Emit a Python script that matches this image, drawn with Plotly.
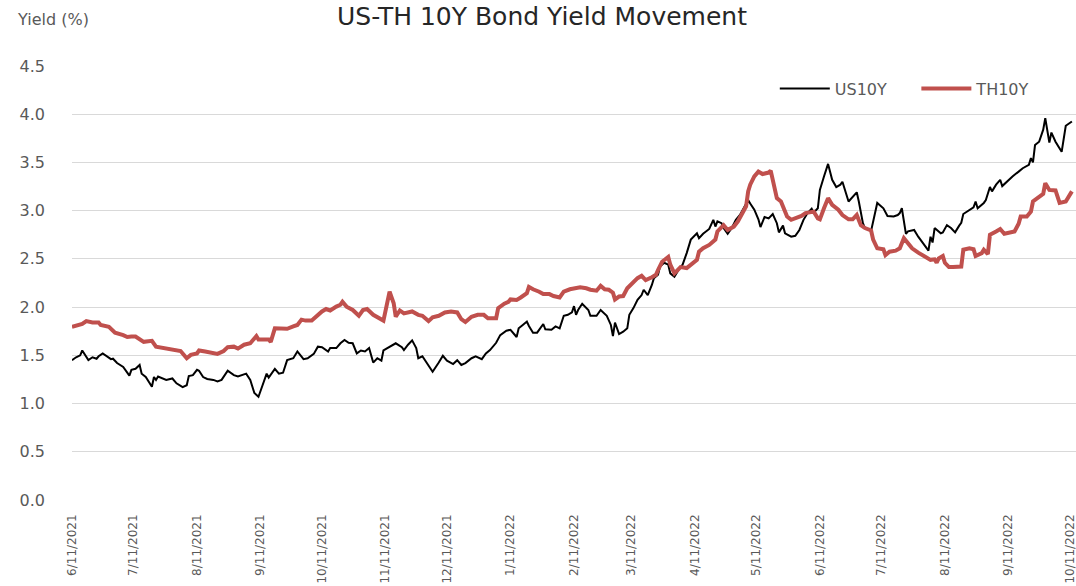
import plotly.graph_objects as go

# US 10-year Treasury yield (%)
us_dates = [
    "2021-06-11", "2021-06-13", "2021-06-15", "2021-06-16", "2021-06-19", "2021-06-21", "2021-06-23",
    "2021-06-24", "2021-06-26", "2021-06-28", "2021-06-30", "2021-07-01", "2021-07-03", "2021-07-06",
    "2021-07-07", "2021-07-09", "2021-07-10", "2021-07-12", "2021-07-14", "2021-07-15", "2021-07-17",
    "2021-07-20", "2021-07-21", "2021-07-22", "2021-07-23", "2021-07-27", "2021-07-30", "2021-08-01",
    "2021-08-04", "2021-08-06", "2021-08-07", "2021-08-09", "2021-08-11", "2021-08-12", "2021-08-14",
    "2021-08-16", "2021-08-19", "2021-08-21", "2021-08-23", "2021-08-26", "2021-08-29", "2021-08-31",
    "2021-09-04", "2021-09-06", "2021-09-08", "2021-09-10", "2021-09-12", "2021-09-14", "2021-09-15",
    "2021-09-18", "2021-09-20", "2021-09-22", "2021-09-24", "2021-09-27", "2021-09-29", "2021-10-02",
    "2021-10-04", "2021-10-07", "2021-10-09", "2021-10-11", "2021-10-14", "2021-10-15", "2021-10-18",
    "2021-10-20", "2021-10-22", "2021-10-24", "2021-10-26", "2021-10-28", "2021-10-30", "2021-11-01",
    "2021-11-03", "2021-11-05", "2021-11-07", "2021-11-09", "2021-11-10", "2021-11-13", "2021-11-16",
    "2021-11-19", "2021-11-20", "2021-11-22", "2021-11-24", "2021-11-26", "2021-11-27", "2021-11-29",
    "2021-12-02", "2021-12-04", "2021-12-07", "2021-12-09", "2021-12-11", "2021-12-14", "2021-12-16",
    "2021-12-18", "2021-12-20", "2021-12-23", "2021-12-25", "2021-12-28", "2021-12-30", "2022-01-01",
    "2022-01-04", "2022-01-06", "2022-01-09", "2022-01-11", "2022-01-14", "2022-01-15", "2022-01-17",
    "2022-01-19", "2022-01-20", "2022-01-22", "2022-01-24", "2022-01-27", "2022-01-28", "2022-01-31",
    "2022-02-02", "2022-02-04", "2022-02-06", "2022-02-08", "2022-02-10", "2022-02-11", "2022-02-12",
    "2022-02-13", "2022-02-15", "2022-02-18", "2022-02-19", "2022-02-22", "2022-02-24", "2022-02-27",
    "2022-03-01", "2022-03-02", "2022-03-03", "2022-03-05", "2022-03-07", "2022-03-09", "2022-03-10",
    "2022-03-12", "2022-03-14", "2022-03-16", "2022-03-17", "2022-03-19", "2022-03-21", "2022-03-22",
    "2022-03-24", "2022-03-25", "2022-03-27", "2022-03-29", "2022-03-30", "2022-04-01", "2022-04-03",
    "2022-04-05", "2022-04-07", "2022-04-09", "2022-04-12", "2022-04-13", "2022-04-15", "2022-04-18",
    "2022-04-20", "2022-04-21", "2022-04-22", "2022-04-24", "2022-04-25", "2022-04-27", "2022-04-29",
    "2022-05-01", "2022-05-03", "2022-05-05", "2022-05-07", "2022-05-08", "2022-05-10", "2022-05-12",
    "2022-05-13", "2022-05-15", "2022-05-17", "2022-05-19", "2022-05-21", "2022-05-22", "2022-05-24",
    "2022-05-25", "2022-05-28", "2022-05-30", "2022-06-01", "2022-06-03", "2022-06-05", "2022-06-07",
    "2022-06-08", "2022-06-10", "2022-06-11", "2022-06-13", "2022-06-15", "2022-06-17", "2022-06-19",
    "2022-06-21", "2022-06-22", "2022-06-25", "2022-06-27", "2022-06-29", "2022-06-30", "2022-07-02",
    "2022-07-03", "2022-07-06", "2022-07-09", "2022-07-12", "2022-07-14", "2022-07-17", "2022-07-19",
    "2022-07-20", "2022-07-21", "2022-07-23", "2022-07-24", "2022-07-27", "2022-07-29", "2022-08-01",
    "2022-08-03", "2022-08-04", "2022-08-05", "2022-08-06", "2022-08-09", "2022-08-10", "2022-08-12",
    "2022-08-14", "2022-08-16", "2022-08-18", "2022-08-19", "2022-08-20", "2022-08-23", "2022-08-25",
    "2022-08-26", "2022-08-27", "2022-08-30", "2022-08-31", "2022-09-02", "2022-09-03", "2022-09-05",
    "2022-09-07", "2022-09-08", "2022-09-11", "2022-09-13", "2022-09-16", "2022-09-18", "2022-09-21",
    "2022-09-22", "2022-09-23", "2022-09-24", "2022-09-26", "2022-09-28", "2022-09-29", "2022-10-01",
    "2022-10-02", "2022-10-04", "2022-10-07", "2022-10-08", "2022-10-09", "2022-10-12",
]
us_yield = [
    1.45, 1.48, 1.50, 1.55, 1.45, 1.48, 1.465,
    1.49, 1.52, 1.49, 1.46, 1.465, 1.42, 1.38,
    1.35, 1.29, 1.35, 1.36, 1.40, 1.31, 1.275,
    1.175, 1.275, 1.245, 1.28, 1.245, 1.26, 1.21,
    1.17, 1.19, 1.285, 1.295, 1.35, 1.34, 1.275,
    1.255, 1.245, 1.23, 1.245, 1.34, 1.295, 1.28,
    1.31, 1.245, 1.11, 1.07, 1.19, 1.31, 1.27,
    1.36, 1.31, 1.32, 1.45, 1.47, 1.54, 1.46,
    1.47, 1.515, 1.59, 1.585, 1.54, 1.575, 1.575,
    1.625, 1.66, 1.63, 1.625, 1.52, 1.55, 1.54,
    1.575, 1.425, 1.47, 1.445, 1.55, 1.585, 1.625,
    1.585, 1.555, 1.61, 1.655, 1.575, 1.47, 1.49,
    1.39, 1.33, 1.425, 1.495, 1.445, 1.41, 1.45,
    1.40, 1.42, 1.47, 1.49, 1.46, 1.52, 1.555,
    1.63, 1.71, 1.755, 1.765, 1.69, 1.78, 1.815,
    1.85, 1.805, 1.735, 1.735, 1.825, 1.77, 1.765,
    1.80, 1.78, 1.91, 1.92, 1.945, 2.01, 1.92,
    1.97, 2.035, 1.97, 1.91, 1.91, 1.97, 1.91,
    1.815, 1.70, 1.84, 1.72, 1.745, 1.78, 1.92,
    1.99, 2.075, 2.125, 2.18, 2.125, 2.23, 2.30,
    2.335, 2.42, 2.46, 2.44, 2.35, 2.315, 2.385,
    2.44, 2.56, 2.70, 2.765, 2.715, 2.76, 2.81,
    2.905, 2.835, 2.89, 2.87, 2.82, 2.76, 2.82,
    2.905, 2.955, 3.035, 3.11, 3.075, 3.01, 2.91,
    2.83, 2.935, 2.92, 2.965, 2.87, 2.775, 2.845,
    2.765, 2.73, 2.74, 2.80, 2.905, 2.975, 3.02,
    2.98, 3.025, 3.215, 3.355, 3.485, 3.32, 3.245,
    3.27, 3.30, 3.095, 3.145, 3.19, 3.095, 2.87,
    2.82, 2.79, 3.08, 3.025, 2.945, 2.94, 2.955,
    2.975, 3.025, 2.76, 2.785, 2.80, 2.73, 2.635,
    2.585, 2.73, 2.67, 2.82, 2.765, 2.775, 2.85,
    2.82, 2.775, 2.845, 2.875, 2.965, 3.01, 3.035,
    3.095, 3.025, 3.08, 3.11, 3.245, 3.20, 3.27,
    3.32, 3.255, 3.32, 3.355, 3.405, 3.44, 3.475,
    3.545, 3.50, 3.68, 3.715, 3.84, 3.96, 3.705,
    3.81, 3.715, 3.61, 3.77, 3.88, 3.925,
]

# Thai 10-year government bond yield (%)
th_dates = [
    "2021-06-11", "2021-06-14", "2021-06-16", "2021-06-18", "2021-06-21", "2021-06-24", "2021-06-25",
    "2021-06-29", "2021-07-01", "2021-07-02", "2021-07-06", "2021-07-08", "2021-07-10", "2021-07-12",
    "2021-07-16", "2021-07-20", "2021-07-22", "2021-07-27", "2021-08-01", "2021-08-03", "2021-08-06",
    "2021-08-08", "2021-08-11", "2021-08-12", "2021-08-15", "2021-08-21", "2021-08-24", "2021-08-26",
    "2021-08-29", "2021-08-31", "2021-09-03", "2021-09-06", "2021-09-09", "2021-09-10", "2021-09-15",
    "2021-09-16", "2021-09-18", "2021-09-21", "2021-09-24", "2021-09-27", "2021-09-29", "2021-10-01",
    "2021-10-03", "2021-10-06", "2021-10-08", "2021-10-11", "2021-10-13", "2021-10-15", "2021-10-18",
    "2021-10-20", "2021-10-21", "2021-10-23", "2021-10-26", "2021-10-29", "2021-10-31", "2021-11-02",
    "2021-11-05", "2021-11-07", "2021-11-10", "2021-11-13", "2021-11-15", "2021-11-16", "2021-11-18",
    "2021-11-20", "2021-11-22", "2021-11-24", "2021-11-27", "2021-11-29", "2021-12-02", "2021-12-04",
    "2021-12-07", "2021-12-10", "2021-12-13", "2021-12-16", "2021-12-18", "2021-12-20", "2021-12-23",
    "2021-12-26", "2021-12-29", "2021-12-31", "2022-01-04", "2022-01-05", "2022-01-08", "2022-01-10",
    "2022-01-11", "2022-01-14", "2022-01-16", "2022-01-19", "2022-01-20", "2022-01-22", "2022-01-25",
    "2022-01-27", "2022-01-30", "2022-02-01", "2022-02-04", "2022-02-06", "2022-02-09", "2022-02-11",
    "2022-02-14", "2022-02-17", "2022-02-19", "2022-02-22", "2022-02-24", "2022-02-26", "2022-02-28",
    "2022-03-02", "2022-03-03", "2022-03-05", "2022-03-07", "2022-03-09", "2022-03-12", "2022-03-14",
    "2022-03-16", "2022-03-18", "2022-03-21", "2022-03-23", "2022-03-24", "2022-03-26", "2022-03-29",
    "2022-03-30", "2022-04-01", "2022-04-04", "2022-04-07", "2022-04-09", "2022-04-12", "2022-04-13",
    "2022-04-15", "2022-04-18", "2022-04-21", "2022-04-22", "2022-04-24", "2022-04-25", "2022-04-27",
    "2022-04-30", "2022-05-02", "2022-05-04", "2022-05-06", "2022-05-07", "2022-05-08", "2022-05-10",
    "2022-05-12", "2022-05-14", "2022-05-17", "2022-05-18", "2022-05-19", "2022-05-21", "2022-05-23",
    "2022-05-24", "2022-05-26", "2022-05-28", "2022-05-30", "2022-06-02", "2022-06-04", "2022-06-08",
    "2022-06-10", "2022-06-11", "2022-06-13", "2022-06-15", "2022-06-17", "2022-06-20", "2022-06-22",
    "2022-06-25", "2022-06-27", "2022-06-29", "2022-07-01", "2022-07-03", "2022-07-06", "2022-07-07",
    "2022-07-09", "2022-07-12", "2022-07-13", "2022-07-15", "2022-07-18", "2022-07-20", "2022-07-22",
    "2022-07-24", "2022-07-26", "2022-07-29", "2022-07-31", "2022-08-03", "2022-08-04", "2022-08-06",
    "2022-08-07", "2022-08-08", "2022-08-10", "2022-08-11", "2022-08-13", "2022-08-15", "2022-08-19",
    "2022-08-20", "2022-08-23", "2022-08-25", "2022-08-26", "2022-08-29", "2022-08-30", "2022-09-01",
    "2022-09-02", "2022-09-05", "2022-09-07", "2022-09-09", "2022-09-12", "2022-09-14", "2022-09-16",
    "2022-09-17", "2022-09-20", "2022-09-22", "2022-09-23", "2022-09-26", "2022-09-28", "2022-09-29",
    "2022-10-01", "2022-10-04", "2022-10-06", "2022-10-09", "2022-10-12",
]
th_yield = [
    1.795, 1.815, 1.825, 1.855, 1.84, 1.84, 1.815,
    1.795, 1.755, 1.735, 1.71, 1.69, 1.695, 1.695,
    1.64, 1.65, 1.59, 1.575, 1.555, 1.545, 1.47,
    1.505, 1.52, 1.55, 1.54, 1.515, 1.545, 1.585,
    1.59, 1.57, 1.61, 1.625, 1.70, 1.665, 1.665,
    1.64, 1.78, 1.78, 1.775, 1.80, 1.815, 1.87,
    1.86, 1.86, 1.90, 1.955, 1.98, 1.965, 2.005,
    2.025, 2.055, 2.005, 1.97, 1.91, 1.97, 1.98,
    1.92, 1.90, 1.86, 2.16, 2.04, 1.90, 1.965,
    1.935, 1.945, 1.955, 1.92, 1.91, 1.855, 1.895,
    1.91, 1.945, 1.955, 1.945, 1.875, 1.845, 1.90,
    1.92, 1.92, 1.885, 1.885, 1.99, 2.035, 2.055,
    2.08, 2.075, 2.10, 2.145, 2.21, 2.185, 2.16,
    2.135, 2.135, 2.115, 2.10, 2.16, 2.185, 2.195,
    2.205, 2.195, 2.18, 2.17, 2.22, 2.185, 2.18,
    2.15, 2.08, 2.11, 2.115, 2.195, 2.265, 2.30,
    2.325, 2.28, 2.31, 2.335, 2.385, 2.47, 2.52,
    2.44, 2.35, 2.415, 2.405, 2.44, 2.49, 2.575,
    2.61, 2.645, 2.70, 2.785, 2.835, 2.85, 2.80,
    2.835, 2.89, 2.96, 3.045, 3.20, 3.27, 3.355,
    3.405, 3.38, 3.395, 3.415, 3.32, 3.13, 3.095,
    3.05, 2.94, 2.905, 2.92, 2.945, 2.975, 2.99,
    2.92, 2.91, 3.025, 3.13, 3.06, 3.01, 2.955,
    2.91, 2.91, 2.955, 2.85, 2.82, 2.795, 2.70,
    2.61, 2.60, 2.54, 2.575, 2.585, 2.61, 2.715,
    2.67, 2.61, 2.565, 2.54, 2.495, 2.49, 2.495,
    2.46, 2.505, 2.53, 2.46, 2.415, 2.415, 2.42,
    2.595, 2.61, 2.60, 2.53, 2.56, 2.595, 2.55,
    2.75, 2.785, 2.81, 2.76, 2.775, 2.785, 2.865,
    2.94, 2.94, 2.99, 3.095, 3.145, 3.175, 3.285,
    3.215, 3.21, 3.08, 3.095, 3.20,
]

# Monthly axis labels
tick_dates = [
    "2021-06-11", "2021-07-11", "2021-08-11", "2021-09-11", "2021-10-11", "2021-11-11",
    "2021-12-11", "2022-01-11", "2022-02-11", "2022-03-11", "2022-04-11", "2022-05-11",
    "2022-06-11", "2022-07-11", "2022-08-11", "2022-09-11", "2022-10-11",
]
tick_labels = [
    "6/11/2021", "7/11/2021", "8/11/2021", "9/11/2021", "10/11/2021", "11/11/2021",
    "12/11/2021", "1/11/2022", "2/11/2022", "3/11/2022", "4/11/2022", "5/11/2022",
    "6/11/2022", "7/11/2022", "8/11/2022", "9/11/2022", "10/11/2022",
]
y_ticks = [0.0, 0.5, 1.0, 1.5, 2.0, 2.5, 3.0, 3.5, 4.0, 4.5]

FONT = "DejaVu Sans"
TEXT = "#595959"

fig = go.Figure()
fig.add_trace(go.Scatter(
    x=us_dates, y=us_yield, name="US10Y", mode="lines",
    line=dict(color="#000000", width=2), legend="legend",
))
fig.add_trace(go.Scatter(
    x=th_dates, y=th_yield, name="TH10Y", mode="lines",
    line=dict(color="#C0504D", width=4), legend="legend2",
))

legend_style = dict(
    orientation="h", yanchor="middle", xanchor="left", itemwidth=50,
    font=dict(size=16, color=TEXT, family=FONT), bgcolor="rgba(0,0,0,0)",
)

fig.update_layout(
    width=1076, height=586,
    margin=dict(l=72, r=0, t=66, b=86),
    paper_bgcolor="white", plot_bgcolor="white",
    font=dict(family=FONT, color=TEXT, size=16),
    showlegend=True,
    legend=dict(x=0.700, y=0.948, **legend_style),
    legend2=dict(x=0.841, y=0.948, **legend_style),
    xaxis=dict(
        type="date", range=["2021-06-11", "2022-10-14"],
        tickvals=tick_dates, ticktext=tick_labels, tickangle=-90,
        tickfont=dict(size=12, color=TEXT, family=FONT),
        showgrid=False, zeroline=False, showline=False, ticks="",
        ticklabelstandoff=11, ticklabeloverflow="allow",
    ),
    yaxis=dict(
        range=[0, 4.5], tickvals=y_ticks, tickformat=".1f",
        tickfont=dict(size=16, color=TEXT, family=FONT),
        showgrid=True, gridcolor="#D9D9D9", gridwidth=1,
        zeroline=False, showline=False, ticks="",
        ticklabelstandoff=26,
    ),
    annotations=[
        dict(text="US-TH 10Y Bond Yield Movement", xref="paper", yref="paper",
             x=0.468, y=1.152, xanchor="center", yanchor="top", showarrow=False,
             font=dict(size=25, color="#262626", family=FONT)),
        dict(text="Yield (%)", xref="paper", yref="paper",
             x=-0.057, y=1.107, xanchor="left", yanchor="middle", showarrow=False,
             font=dict(size=16, color=TEXT, family=FONT)),
    ],
)

fig.write_html("out.html")
